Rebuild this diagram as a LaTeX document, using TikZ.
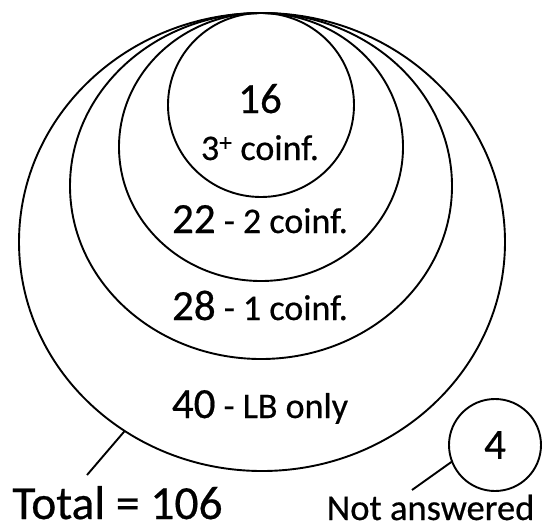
\documentclass[tikz,border=0pt]{standalone}
\usepackage{fontspec}
\setmainfont{Carlito}[UprightFeatures={FakeBold=0.5}]
\usetikzlibrary{shapes.geometric}
\newcommand{\bignum}[1]{{\fontsize{43}{48}\selectfont #1}}

\begin{document}
\begin{tikzpicture}[x=1pt,y=-1pt,line width=1.9pt,
  every node/.style={font=\fontsize{36}{40}\selectfont},
  ring/.style={draw,ellipse,inner sep=0pt,outer sep=0pt},
  lbl/.style={anchor=base,inner sep=0pt}]
  \useasboundingbox (0,0) rectangle (543,525);
  % nested groups, all touching at the top
  \node[ring,minimum width=486pt,minimum height=458pt] (lb) at (262,242) {};
  \node[ring,minimum width=382pt,minimum height=346pt] (one) at (261,186) {};
  \node[ring,minimum width=284pt,minimum height=268pt] (two) at (261,147) {};
  \node[ring,minimum width=186pt,minimum height=184pt] (three) at (261,105) {};
  \node[lbl] (three num) at (260,113) {\bignum{16}};
  \node[lbl] (three txt) at (260,160) {3\textsuperscript{+} coinf.};
  \node[lbl] (two txt) at (260,233) {\bignum{22} - 2 coinf.};
  \node[lbl] (one txt) at (260,320) {\bignum{28} - 1 coinf.};
  \node[lbl] (lb txt) at (260,418) {\bignum{40} - LB only};
  % totals
  \node[lbl,font=\fontsize{47.5}{50}\selectfont] (total) at (117.5,519) {Total = 106};
  \coordinate (total tip) at (87,475);
  \draw (total tip) -- (lb.234);
  \node[ring,circle,minimum size=92pt] (na) at (495,445) {\bignum{4}};
  \node[lbl,font=\fontsize{36.5}{40}\selectfont] (na txt) at (430.5,520) {Not answered};
  \coordinate (na tip) at (412,490);
  \draw (na tip) -- (na.201);
\end{tikzpicture}
\end{document}
